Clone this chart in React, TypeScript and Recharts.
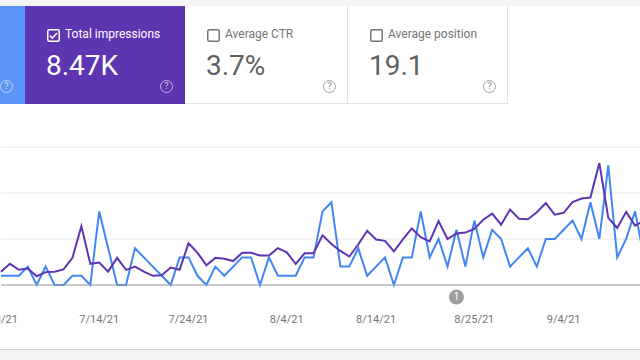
import { CartesianGrid, Line, LineChart, ReferenceDot, XAxis, YAxis } from 'recharts'

// one point per day, 7/3/21 .. 9/14/21
const dates = Array.from({ length: 73 }, (_, i) => {
  const d = new Date(2021, 6, 3 + i)
  return `${d.getMonth() + 1}/${d.getDate()}/21`
})

const impressions = [
  29, 46, 33, 36, 19, 28, 29, 34, 59, 128, 46, 49, 29, 59, 33, 40, 29, 20, 21, 38,
  33, 91, 70, 43, 59, 57, 52, 70, 70, 64, 64, 80, 71, 46, 69, 69, 108, 89, 74, 62,
  88, 118, 99, 96, 73, 99, 123, 104, 95, 139, 100, 112, 114, 122, 142, 155, 131, 164, 144, 143,
  158, 178, 153, 157, 180, 188, 190, 265, 146, 124, 159, 129, 140,
]

const clicks = [
  1, 1, 1, 2, 0, 2, 0, 0, 1, 1, 0, 8, 4, 0, 0, 4, 3, 2, 1, 0,
  3, 3, 1, 0, 2, 1, 2, 3, 3, 0, 3, 1, 1, 1, 3, 3, 8, 9, 2, 2,
  4, 1, 2, 3, 0, 3, 3, 8, 3, 5, 2, 6, 2, 7, 3, 6, 5, 2, 3, 4,
  2, 5, 5, 6, 7, 5, 9, 5, 13, 3, 5, 8, 3,
]

const tickLabels = ['7/3/21', '7/14/21', '7/24/21', '8/4/21', '8/14/21', '8/25/21', '9/4/21']
const annotationDate = '8/23/21'

const data = dates.map((date, i) => ({ date, impressions: impressions[i], clicks: clicks[i] }))

const PURPLE = '#5e35b1'
const BLUE = '#4285f4'
const BLUE_CARD = '#5a96f5'

function Help({ color, x, y }: { color: string; x: number; y: number }) {
  return (
    <div
      style={{
        position: 'absolute',
        left: x - 7,
        top: y - 7,
        width: 11,
        height: 11,
        borderRadius: '50%',
        border: `1.5px solid ${color}`,
        color,
        fontSize: 9,
        lineHeight: '11px',
        textAlign: 'center',
        fontWeight: 500,
      }}
    >
      ?
    </div>
  )
}

function Check({ checked, color }: { checked: boolean; color: string }) {
  return (
    <svg width={13} height={13} style={{ position: 'absolute', left: 0, top: 0 }}>
      <rect x={0.75} y={0.75} width={11.5} height={11.5} rx={1.5} fill="none" stroke={color} strokeWidth={1.5} />
      {checked && <path d="M3 6.6 L5.4 9 L10 4" fill="none" stroke={color} strokeWidth={1.6} />}
    </svg>
  )
}

interface CardProps {
  left: number
  width: number
  label: string
  value: string
  selected: boolean
  bg: string
}

function Card({ left, width, label, value, selected, bg }: CardProps) {
  const fg = selected ? '#ffffff' : '#757575'
  return (
    <div
      style={{
        position: 'absolute',
        left,
        top: 6,
        width,
        height: 98,
        background: bg,
        borderRight: selected ? 'none' : '1px solid #e3e3e3',
        borderBottom: selected ? 'none' : '1px solid #e3e3e3',
        boxSizing: 'border-box',
      }}
    >
      <div style={{ position: 'absolute', left: 22, top: 23, width: 13, height: 13 }}>
        <Check checked={selected} color={selected ? '#ffffff' : '#757575'} />
      </div>
      <div style={{ position: 'absolute', left: 40, top: 21, fontSize: 12, color: fg, whiteSpace: 'nowrap' }}>
        {label}
      </div>
      <div
        style={{
          position: 'absolute',
          left: 21,
          top: 43,
          fontSize: 28,
          color: selected ? '#ffffff' : '#616161',
          whiteSpace: 'nowrap',
        }}
      >
        {value}
      </div>
      <Help color={selected ? 'rgba(255,255,255,0.6)' : '#9e9e9e'} x={width - 18} y={81} />
    </div>
  )
}

function Marker(props: { cx?: number; cy?: number }) {
  const { cx = 0, cy = 0 } = props
  return (
    <g>
      <circle cx={cx} cy={cy} r={7.5} fill="#9e9e9e" />
      <text x={cx} y={cy + 3.5} textAnchor="middle" fontSize={10} fill="#ffffff" fontFamily="Roboto">
        1
      </text>
    </g>
  )
}

export default function App() {
  return (
    <div
      style={{
        position: 'absolute',
        left: 0,
        top: 0,
        width: 640,
        height: 360,
        overflow: 'hidden',
        background: '#ffffff',
        fontFamily: 'Roboto, sans-serif',
      }}
    >
      <div style={{ position: 'absolute', left: 0, top: 0, width: 640, height: 6, background: '#f4f4f4' }} />

      {/* clicks card, mostly cut off */}
      <div style={{ position: 'absolute', left: 0, top: 6, width: 25, height: 98, background: BLUE_CARD }}>
        <Help color="rgba(255,255,255,0.6)" x={7} y={81} />
      </div>
      <Card left={25} width={160} label="Total impressions" value="8.47K" selected bg={PURPLE} />
      <Card left={185} width={163} label="Average CTR" value="3.7%" selected={false} bg="#ffffff" />
      <Card left={348} width={160} label="Average position" value="19.1" selected={false} bg="#ffffff" />

      <div style={{ position: 'absolute', left: 0, top: 137 }}>
        <LineChart width={644} height={198} data={data} margin={{ top: 10, right: 0, left: 1, bottom: 0 }}>
          <CartesianGrid vertical={false} stroke="#e8e8e8" />
          <XAxis
            dataKey="date"
            scale="point"
            ticks={tickLabels}
            interval={0}
            tickLine={false}
            axisLine={{ stroke: '#9e9e9e' }}
            tick={{ fontSize: 11, fill: '#757575', fontFamily: 'Roboto' }}
            tickMargin={24}
            height={50}
          />
          <YAxis hide domain={[0, 300]} ticks={[0, 100, 200, 300]} />
          <YAxis hide yAxisId="clk" domain={[0, 15]} />
          <Line
            yAxisId="clk"
            type="linear"
            dataKey="clicks"
            stroke={BLUE}
            strokeWidth={2}
            dot={false}
            isAnimationActive={false}
          />
          <Line
            type="linear"
            dataKey="impressions"
            stroke={PURPLE}
            strokeWidth={2}
            dot={false}
            isAnimationActive={false}
          />
          <ReferenceDot x={annotationDate} y={-26} ifOverflow="visible" shape={<Marker />} />
        </LineChart>
      </div>

      <div style={{ position: 'absolute', left: 0, top: 349, width: 640, height: 1, background: '#d0d0d0' }} />
      <div style={{ position: 'absolute', left: 0, top: 350, width: 640, height: 10, background: '#f4f4f4' }} />
    </div>
  )
}
